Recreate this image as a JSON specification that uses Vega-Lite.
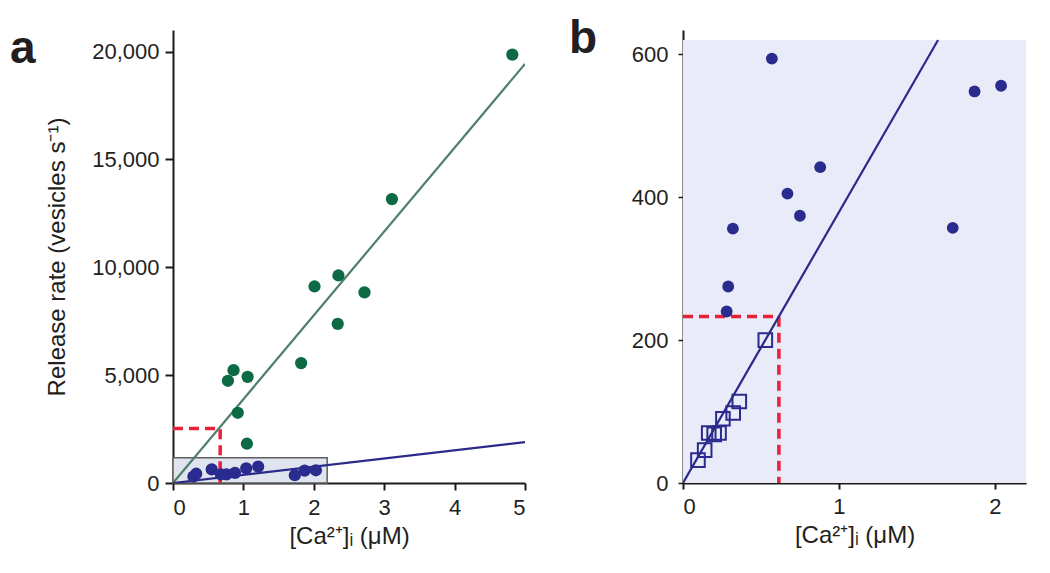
{
  "$schema": "https://vega.github.io/schema/vega-lite/v6.json",
  "padding": {"left": 10, "top": 16, "right": 5, "bottom": 5},
  "background": "white",
  "config": {
    "font": "Liberation Sans",
    "view": {"stroke": null},
    "axis": {
      "domainColor": "#1a1a1a", "domainWidth": 2, "tickColor": "#1a1a1a", "tickWidth": 2,
      "labelFontSize": 22, "labelColor": "#231f20", "titleFontSize": 24, "titleFontWeight": "normal",
      "titleColor": "#231f20", "grid": false, "labelFont": "Liberation Sans", "titleFont": "Liberation Sans"
    }
  },
  "datasets": {
    "greenA": [
      {"x": 0.78, "y": 4740}, {"x": 0.86, "y": 5230}, {"x": 1.06, "y": 4920}, {"x": 0.92, "y": 3255},
      {"x": 1.05, "y": 1820}, {"x": 1.82, "y": 5560}, {"x": 2.01, "y": 9110}, {"x": 2.35, "y": 9620},
      {"x": 2.34, "y": 7380}, {"x": 2.72, "y": 8840}, {"x": 3.11, "y": 13160}, {"x": 4.82, "y": 19860}
    ],
    "blueA": [
      {"x": 0.29, "y": 300}, {"x": 0.33, "y": 430}, {"x": 0.55, "y": 630}, {"x": 0.68, "y": 400},
      {"x": 0.76, "y": 400}, {"x": 0.88, "y": 470}, {"x": 1.04, "y": 680}, {"x": 1.21, "y": 760},
      {"x": 1.73, "y": 360}, {"x": 1.87, "y": 570}, {"x": 2.03, "y": 590}
    ],
    "greenLineA": [{"x": 0, "y": 0}, {"x": 5.0, "y": 19430}],
    "blueLineA": [{"x": 0, "y": 0}, {"x": 5.0, "y": 1898}],
    "redA": [{"x": 0, "y": 2530, "o": 1}, {"x": 0.67, "y": 2530, "o": 2}, {"x": 0.67, "y": 0, "o": 3}],
    "boxA": [{"x": 0, "x2": 2.19, "y": 0, "y2": 1170}],
    "bgB": [{"x": 0, "x2": 2.2, "y": 0, "y2": 620}],
    "blueB": [
      {"x": 0.28, "y": 240}, {"x": 0.29, "y": 275}, {"x": 0.32, "y": 356}, {"x": 0.57, "y": 594},
      {"x": 0.67, "y": 405}, {"x": 0.75, "y": 374}, {"x": 0.88, "y": 442}, {"x": 1.73, "y": 357},
      {"x": 1.87, "y": 548}, {"x": 2.04, "y": 556}
    ],
    "squaresB": [
      {"x": 0.096, "y": 32}, {"x": 0.139, "y": 46}, {"x": 0.165, "y": 70}, {"x": 0.2, "y": 68},
      {"x": 0.231, "y": 70}, {"x": 0.256, "y": 90}, {"x": 0.322, "y": 98}, {"x": 0.361, "y": 114},
      {"x": 0.528, "y": 200}
    ],
    "lineB": [{"x": 0, "y": 0}, {"x": 1.636, "y": 620}],
    "redB": [{"x": 0, "y": 233, "o": 1}, {"x": 0.615, "y": 233, "o": 2}, {"x": 0.615, "y": 0, "o": 3}]
  },
  "spacing": 43,
  "hconcat": [
    {
      "title": {"text": "a", "anchor": "start", "frame": "group", "fontSize": 46, "fontWeight": "bold", "dx": -163, "offset": -43, "color": "#231f20", "font": "Liberation Sans"},
      "width": 352,
      "height": 453,
      "encoding": {
        "x": {"field": "x", "type": "quantitative", "scale": {"domain": [0, 5], "nice": false},
              "axis": {"title": "[Ca²⁺]ᵢ (μM)", "values": [0, 1, 2, 3, 4, 5], "tickSize": 7, "labelPadding": 7, "titlePadding": 6}},
        "y": {"field": "y", "type": "quantitative", "scale": {"domain": [0, 21000], "nice": false},
              "axis": {"title": "Release rate (vesicles s⁻¹)", "values": [0, 5000, 10000, 15000, 20000], "format": ",.0f", "tickSize": 8, "labelPadding": 6, "titlePadding": 22}}
      },
      "layer": [
        {"data": {"name": "boxA"}, "mark": {"type": "rect", "fill": "#e0e4ef", "stroke": "#5e5e5e", "strokeWidth": 1.5},
         "encoding": {"x2": {"field": "x2"}, "y2": {"field": "y2"}}},
        {"data": {"name": "redA"}, "mark": {"type": "line", "color": "#e8203a", "strokeWidth": 3.5, "strokeDash": [10, 6]},
         "encoding": {"order": {"field": "o", "type": "quantitative"}}},
        {"data": {"name": "greenLineA"}, "mark": {"type": "line", "color": "#4f7f69", "strokeWidth": 2.2, "clip": true}, "encoding": {}},
        {"data": {"name": "blueLineA"}, "mark": {"type": "line", "color": "#2b2a8a", "strokeWidth": 2.2, "clip": true}, "encoding": {}},
        {"data": {"name": "greenA"}, "mark": {"type": "point", "shape": "circle", "filled": true, "opacity": 1, "size": 150, "color": "#0c6a45"}, "encoding": {}},
        {"data": {"name": "blueA"}, "mark": {"type": "point", "shape": "circle", "filled": true, "opacity": 1, "size": 150, "color": "#2a2b8e"}, "encoding": {}}
      ]
    },
    {
      "title": {"text": "b", "anchor": "start", "frame": "group", "fontSize": 46, "fontWeight": "bold", "dx": -114, "offset": -33, "color": "#231f20", "font": "Liberation Sans"},
      "width": 343,
      "height": 453,
      "encoding": {
        "x": {"field": "x", "type": "quantitative", "scale": {"domain": [0, 2.2], "nice": false},
              "axis": {"title": "[Ca²⁺]ᵢ (μM)", "values": [0, 1, 2], "tickSize": 6, "labelPadding": 7, "titlePadding": 6}},
        "y": {"field": "y", "type": "quantitative", "scale": {"domain": [0, 634], "nice": false},
              "axis": {"title": null, "values": [0, 200, 400, 600], "tickSize": 5, "tickWidth": 1.5, "labelPadding": 10}}
      },
      "layer": [
        {"data": {"name": "bgB"}, "mark": {"type": "rect", "fill": "#e9ecf8"},
         "encoding": {"x2": {"field": "x2"}, "y2": {"field": "y2"}}},
        {"data": {"name": "redB"}, "mark": {"type": "line", "color": "#e8203a", "strokeWidth": 3.5, "strokeDash": [10, 6]},
         "encoding": {"order": {"field": "o", "type": "quantitative"}}},
        {"data": {"name": "lineB"}, "mark": {"type": "line", "color": "#2b2a8a", "strokeWidth": 2.2, "clip": true}, "encoding": {}},
        {"data": {"name": "squaresB"}, "mark": {"type": "point", "shape": "square", "filled": false, "opacity": 1, "size": 185, "strokeWidth": 2, "color": "#2b2a8e"}, "encoding": {}},
        {"data": {"name": "blueB"}, "mark": {"type": "point", "shape": "circle", "filled": true, "opacity": 1, "size": 140, "color": "#2a2b8e"}, "encoding": {}}
      ]
    }
  ]
}
